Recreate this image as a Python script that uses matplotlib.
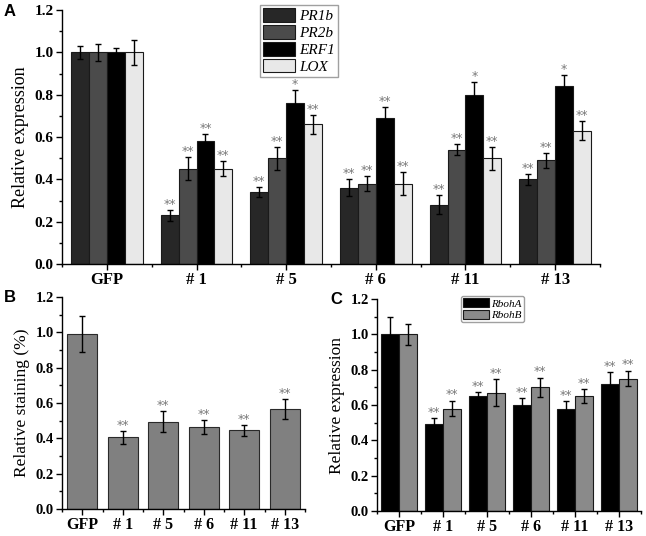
import matplotlib
matplotlib.use("Agg")
import matplotlib.pyplot as plt
import numpy as np
from matplotlib.ticker import MultipleLocator, FixedLocator

plt.rcParams['font.family'] = ['Liberation Serif', 'DejaVu Serif']

categories = ["GFP", "# 1", "# 5", "# 6", "# 11", "# 13"]

# Panel A
a_series = ["PR1b", "PR2b", "ERF1", "LOX"]
a_pr1b = [1.00, 0.23, 0.34, 0.36, 0.28, 0.40]
a_pr1b_err = [0.03, 0.025, 0.025, 0.04, 0.045, 0.025]
a_pr2b = [1.00, 0.45, 0.50, 0.38, 0.54, 0.49]
a_pr2b_err = [0.04, 0.055, 0.055, 0.035, 0.025, 0.035]
a_erf1 = [1.00, 0.58, 0.76, 0.69, 0.80, 0.84]
a_erf1_err = [0.02, 0.035, 0.06, 0.05, 0.06, 0.055]
a_lox = [1.00, 0.45, 0.66, 0.38, 0.50, 0.63]
a_lox_err = [0.06, 0.035, 0.045, 0.055, 0.055, 0.045]
a_pr1b_sig = ["", "**", "**", "**", "**", "**"]
a_pr2b_sig = ["", "**", "**", "**", "**", "**"]
a_erf1_sig = ["", "**", "*", "**", "*", "*"]
a_lox_sig = ["", "**", "**", "**", "**", "**"]

# Panel B
b_vals = [0.99, 0.405, 0.495, 0.465, 0.445, 0.565]
b_err = [0.10, 0.035, 0.06, 0.04, 0.03, 0.055]
b_sig = ["", "**", "**", "**", "**", "**"]

# Panel C
c_series = ["RbohA", "RbohB"]
c_rboha = [1.00, 0.49, 0.65, 0.60, 0.58, 0.72]
c_rboha_err = [0.10, 0.035, 0.025, 0.04, 0.04, 0.065]
c_rbohb = [1.00, 0.58, 0.67, 0.70, 0.65, 0.75]
c_rbohb_err = [0.06, 0.045, 0.075, 0.055, 0.04, 0.045]
c_rboha_sig = ["", "**", "**", "**", "**", "**"]
c_rbohb_sig = ["", "**", "**", "**", "**", "**"]

W, H = 646, 536
fig = plt.figure(figsize=(W / 100, H / 100), dpi=100)

def px_axes(l, r, b, t):
    return fig.add_axes([l / W, 1 - b / H, (r - l) / W, (b - t) / H])

tickfont = dict(family=['Liberation Serif', 'DejaVu Serif'], weight='bold')
star_color = '#7a7a7a'

def style_axes(ax, n, fs=11):
    ax.set_xlim(-0.5, n - 0.5)
    ax.set_ylim(0, 1.2)
    for s in ['top', 'right']:
        ax.spines[s].set_visible(False)
    for s in ['left', 'bottom']:
        ax.spines[s].set_linewidth(1.0)
    ax.yaxis.set_major_locator(MultipleLocator(0.2))
    ax.yaxis.set_minor_locator(MultipleLocator(0.1))
    ax.xaxis.set_major_locator(FixedLocator(np.arange(n)))
    ax.xaxis.set_minor_locator(FixedLocator(np.arange(n + 1) - 0.5))
    ax.tick_params(axis='both', which='major', direction='out', length=4, width=1)
    ax.tick_params(axis='both', which='minor', direction='out', length=2.5, width=1)
    ax.set_xticks(np.arange(n))
    ax.set_xticklabels(categories, fontsize=fs + 1, **tickfont)
    ax.set_yticks(np.arange(0, 1.21, 0.2))
    ax.set_yticklabels([f"{v:.1f}" for v in np.arange(0, 1.21, 0.2)], fontsize=fs, **tickfont)
    ax.tick_params(axis='x', pad=2)
    ax.tick_params(axis='y', pad=2)

def draw_group(ax, vals_list, errs_list, sigs_list, colors, width, labels, star_fs=9, edge='#1a1a1a'):
    n = len(vals_list)
    x = np.arange(len(categories))
    handles = []
    for i, (v, e, s, c) in enumerate(zip(vals_list, errs_list, sigs_list, colors)):
        xi = x + (i - (n - 1) / 2) * width
        h = ax.bar(xi, v, width, color=c, edgecolor=edge, linewidth=0.8, label=labels[i] if labels else None, zorder=2)
        ax.errorbar(xi, v, yerr=e, fmt='none', ecolor='black', elinewidth=1, capsize=2.5, capthick=1, zorder=3)
        for xx, vv, ee, ss in zip(xi, v, e, s):
            if ss:
                ax.text(xx, vv + ee - 0.005, ss, ha='center', va='bottom', fontsize=star_fs,
                        color=star_color, family=['DejaVu Sans'])
        handles.append(h)
    return handles

# ---------- Panel A ----------
axA = px_axes(62, 600, 264, 10)
style_axes(axA, 6, fs=11)
draw_group(axA, [a_pr1b, a_pr2b, a_erf1, a_lox],
           [a_pr1b_err, a_pr2b_err, a_erf1_err, a_lox_err],
           [a_pr1b_sig, a_pr2b_sig, a_erf1_sig, a_lox_sig],
           ['#272727', '#4b4b4b', '#000000', '#e8e8e8'], 0.2, a_series)
axA.set_ylabel("Relative expression", fontsize=13, labelpad=4)
legA = axA.legend(loc='upper left', bbox_to_anchor=((260 - 62) / 538, 1 + 5 / 254), frameon=True,
                  fancybox=False, edgecolor='#888888', handlelength=2.1, handleheight=1.0,
                  labelspacing=0.12, handletextpad=0.25, borderpad=0.2, borderaxespad=0,
                  prop=dict(family=['Liberation Serif'], style='italic', size=11))
legA.get_frame().set_linewidth(1.0)

# ---------- Panel B ----------
axB = px_axes(62, 305, 509, 297)
style_axes(axB, 6, fs=10.5)
draw_group(axB, [b_vals], [b_err], [b_sig], ['#808080'], 0.75, None, edge='#2a2a2a')
axB.set_ylabel("Relative staining (%)", fontsize=12.5, labelpad=4)

# ---------- Panel C ----------
axC = px_axes(377, 641, 511, 299)
style_axes(axC, 6, fs=10.5)
draw_group(axC, [c_rboha, c_rbohb], [c_rboha_err, c_rbohb_err], [c_rboha_sig, c_rbohb_sig],
           ['#000000', '#8a8a8a'], 0.4, c_series, edge='#1a1a1a')
axC.set_ylabel("Relative expression", fontsize=12.5, labelpad=4)
legC = axC.legend(loc='upper left', bbox_to_anchor=((461 - 377) / 264, 1 + 3 / 212), frameon=True,
                  fancybox=True, edgecolor='#888888', handlelength=2.3, handleheight=0.9,
                  labelspacing=0.1, handletextpad=0.25, borderpad=0.2, borderaxespad=0,
                  prop=dict(family=['Liberation Serif'], style='italic', size=8))

# Panel letters
for lbl, xp, yp in [("A", 4, 12), ("B", 4, 298), ("C", 330, 300)]:
    fig.text(xp / W, 1 - yp / H, lbl, fontsize=12, weight='bold', family=['Liberation Sans'],
             ha='left', va='center')

fig.savefig("out.png", dpi=100)
